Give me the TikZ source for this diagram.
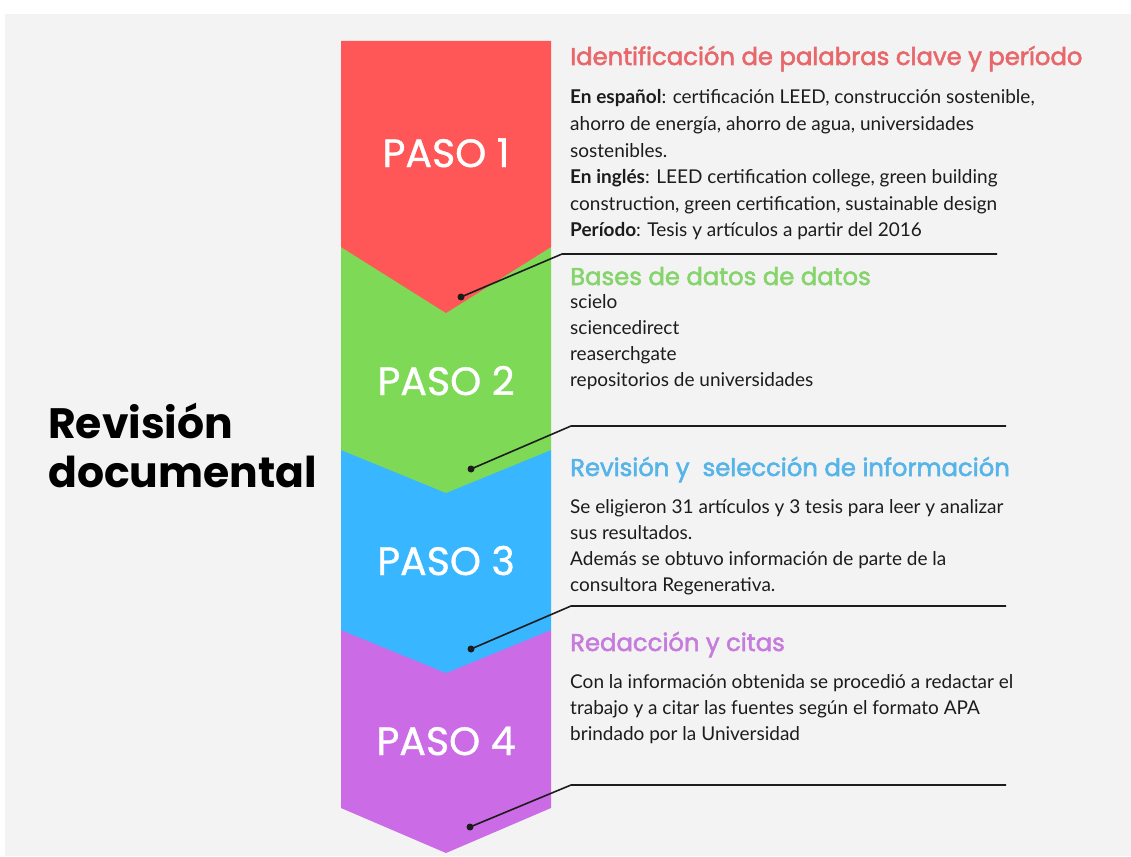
\documentclass[tikz,border=0pt]{standalone}
\usepackage{fontspec}
\setmainfont{Lato}
\newfontfamily\headfont[FakeBold=2.2]{Poppins}
\newfontfamily\pasofont[FakeBold=1.0]{Poppins}
\newfontfamily\titlefont{Poppins}
\definecolor{bg}{HTML}{F3F3F3}
\definecolor{cred}{HTML}{FF5757}
\definecolor{cgreen}{HTML}{7ED957}
\definecolor{cblue}{HTML}{38B6FF}
\definecolor{cpurple}{HTML}{CB6CE6}
\definecolor{hred}{HTML}{E8676A}
\definecolor{hgreen}{HTML}{86D46C}
\definecolor{hblue}{HTML}{55B4E8}
\definecolor{hpurple}{HTML}{C67CDC}
\definecolor{ink}{HTML}{1C1C1C}
\tikzset{
  body/.style={anchor=base west, inner sep=0pt, text=ink, font=\fontsize{19}{22}\selectfont},
  head/.style={anchor=base west, inner sep=0pt, font=\headfont\fontsize{24.3}{28}\selectfont},
  paso/.style={anchor=base, inner sep=0pt, text=white, font=\pasofont\fontsize{39.5}{42}\selectfont},
  ttl/.style={anchor=base west, inner sep=0pt, text=black, font=\titlefont\bfseries\fontsize{42.5}{46}\selectfont},
  lead/.style={draw=ink, line width=1.6pt, line join=round},
  leaddot/.style={circle, fill=ink, inner sep=0pt, minimum size=7pt}
}
\begin{document}
\begin{tikzpicture}[x=1pt,y=-1pt]
\useasboundingbox (0,0) rectangle (1131,856);
\fill[white] (0,0) rectangle (1131,856);
\fill[bg] (5,14) rectangle (1131,856);

% chevrons (bottom first)
\fill[cpurple] (341,630) -- (551,630) -- (551,808) -- (446,853) -- (341,808) -- cycle;
\fill[cblue] (341,450) -- (551,450) -- (551,630) -- (446,673) -- (341,630) -- cycle;
\fill[cgreen] (341,247) -- (551,247) -- (551,450) -- (446,493) -- (341,450) -- cycle;
\fill[cred] (341,41) -- (551,41) -- (551,247) -- (446,313) -- (341,247) -- cycle;

\node[paso] (p1) at (446,167) {PASO 1};
\node[paso] (p2) at (446,395) {PASO 2};
\node[paso] (p3) at (446,575) {PASO 3};
\node[paso] (p4) at (446,755) {PASO 4};

% title
\node[ttl] (t1) at (48,438) {Revisión};
\node[ttl] (t2) at (48,487) {documental};

% leader lines
\coordinate (d1) at (461,297); \coordinate (c1) at (562,254); \coordinate (e1) at (997,254);
\coordinate (d2) at (471,469); \coordinate (c2) at (571,426); \coordinate (e2) at (1006,426);
\coordinate (d3) at (471,649); \coordinate (c3) at (571,606); \coordinate (e3) at (1006,606);
\coordinate (d4) at (470,827); \coordinate (c4) at (571,785); \coordinate (e4) at (1006,785);
\foreach \i in {1,2,3,4}{
  \draw[lead] (d\i) -- (c\i) -- (e\i);
  \node[leaddot] (dot\i) at (d\i) {};
}

% step 1
\node[head, text=hred] (h1) at (570,65) {Identificación de palabras clave y período};
\node[body] (b1a) at (570,104) {\textbf{En español}: certificación LEED, construcción sostenible,};
\node[body] (b1b) at (570,130.5) {ahorro de energía, ahorro de agua, universidades};
\node[body] (b1c) at (570,157) {sostenibles.};
\node[body] (b1d) at (570,183.5) {\textbf{En inglés}: LEED certification college, green building};
\node[body] (b1e) at (570,210) {construction, green certification, sustainable design};
\node[body] (b1f) at (570,236.5) {\textbf{Período}: Tesis y artículos a partir del 2016};

% step 2
\node[head, text=hgreen] (h2) at (570,285) {Bases de datos de datos};
\node[body] (b2a) at (570,308.5) {scielo};
\node[body] (b2b) at (570,334.5) {sciencedirect};
\node[body] (b2c) at (570,360.5) {reaserchgate};
\node[body] (b2d) at (570,386.5) {repositorios de universidades};

% step 3
\node[head, text=hblue] (h3) at (570,476) {Revisión y \ selección de información};
\node[body] (b3a) at (570,513.5) {Se eligieron 31 artículos y 3 tesis para leer y analizar};
\node[body] (b3b) at (570,539.5) {sus resultados.};
\node[body] (b3c) at (570,565.5) {Además se obtuvo información de parte de la};
\node[body] (b3d) at (570,591.5) {consultora Regenerativa.};

% step 4
\node[head, text=hpurple] (h4) at (570,651) {Redacción y citas};
\node[body] (b4a) at (570,688.5) {Con la información obtenida se procedió a redactar el};
\node[body] (b4b) at (570,714.5) {trabajo y a citar las fuentes según el formato APA};
\node[body] (b4c) at (570,740.5) {brindado por la Universidad};
\end{tikzpicture}
\end{document}
